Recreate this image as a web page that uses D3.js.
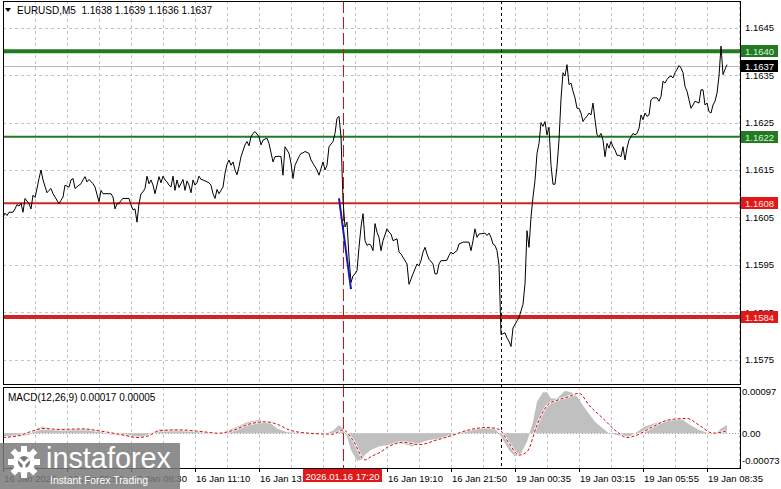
<!DOCTYPE html>
<html>
<head>
<meta charset="utf-8">
<script src="https://cdn.jsdelivr.net/npm/d3@7/dist/d3.min.js"></script>
<style>
  body { margin: 0; background: #fff; }
  svg text { font-family: "Liberation Sans", Arial, sans-serif; }
</style>
</head>
<body>
<svg id="chart" width="781" height="489"></svg>
<script>
// Chart values
const symbolTitle = "EURUSD,M5  1.1638 1.1639 1.1636 1.1637";
const macdTitle = "MACD(12,26,9) 0.00017 0.00005";

// [bar index, close]
const closes = [
  [0,1.16051],[1,1.16059],[2,1.16054],[3,1.16061],[5,1.16061],[6,1.16068],[7,1.16077],[8,1.16074],[9,1.16080],
  [10,1.16061],[11,1.16090],[13,1.16079],[14,1.16068],[15,1.16097],[16,1.16092],[17,1.16111],[18,1.16132],
  [19,1.16150],[20,1.16129],[22,1.16102],[23,1.16107],[24,1.16111],[25,1.16100],[26,1.16093],[28,1.16079],
  [29,1.16086],[30,1.16093],[31,1.16118],[33,1.16114],[34,1.16129],[35,1.16132],[36,1.16111],[38,1.16118],
  [39,1.16121],[40,1.16129],[41,1.16136],[42,1.16125],[43,1.16130],[45,1.16121],[46,1.16114],[48,1.16083],
  [49,1.16107],[50,1.16100],[54,1.16100],[55,1.16093],[56,1.16068],[57,1.16079],[58,1.16079],[59,1.16086],
  [60,1.16090],[63,1.16090],[64,1.16076],[65,1.16066],[66,1.16068],[67,1.16040],[68,1.16079],[69,1.16100],
  [70,1.16104],[71,1.16111],[72,1.16137],[73,1.16121],[74,1.16129],[75,1.16118],[76,1.16100],[77,1.16118],
  [78,1.16136],[79,1.16123],[80,1.16137],[81,1.16129],[82,1.16125],[83,1.16118],[84,1.16114],[85,1.16137],
  [86,1.16107],[87,1.16129],[88,1.16113],[90,1.16130],[91,1.16107],[92,1.16127],[93,1.16118],[94,1.16102],
  [95,1.16129],[96,1.16118],[97,1.16123],[98,1.16137],[99,1.16130],[100,1.16129],[102,1.16125],[103,1.16123],
  [104,1.16118],[105,1.16100],[106,1.16090],[107,1.16109],[108,1.16100],[109,1.16107],[110,1.16114],
  [111,1.16143],[112,1.16162],[113,1.16171],[114,1.16160],[115,1.16167],[116,1.16150],[117,1.16140],
  [118,1.16157],[119,1.16178],[121,1.16203],[122,1.16210],[123,1.16201],[124,1.16220],[125,1.16227],
  [126,1.16231],[128,1.16220],[129,1.16203],[130,1.16213],[131,1.16215],[132,1.16217],[133,1.16206],
  [135,1.16167],[136,1.16178],[138,1.16179],[139,1.16178],[140,1.16139],[141,1.16199],[143,1.16185],
  [144,1.16164],[145,1.16132],[146,1.16160],[148,1.16178],[149,1.16185],[150,1.16186],[151,1.16189],
  [153,1.16185],[154,1.16171],[155,1.16164],[156,1.16157],[157,1.16150],[158,1.16139],[160,1.16167],
  [161,1.16150],[162,1.16160],[163,1.16199],[165,1.16210],[166,1.16227],[167,1.16259],[168,1.16263],
  [169,1.16220],[170,1.16086],[171,1.16030],[172,1.16040],[173,1.15966],[174,1.15913],[175,1.15927],
  [176,1.15931],[177,1.15938],[178,1.15987],[179,1.16030],[180,1.16058],[181,1.16001],[182,1.15991],
  [183,1.15994],[184,1.15991],[185,1.15980],[186,1.16037],[187,1.16019],[188,1.16008],[189,1.15980],
  [190,1.16001],[192,1.16026],[193,1.16019],[194,1.16015],[195,1.16001],[197,1.16005],[198,1.15977],
  [199,1.15973],[200,1.15966],[202,1.15952],[203,1.15909],[204,1.15920],[205,1.15931],[207,1.15952],
  [208,1.15948],[209,1.15959],[210,1.15977],[211,1.15987],[212,1.15973],[213,1.15962],[215,1.15952],
  [216,1.15931],[217,1.15931],[218,1.15952],[219,1.15959],[221,1.15959],[222,1.15960],[223,1.15970],
  [224,1.15977],[225,1.15973],[226,1.15977],[227,1.15980],[228,1.15994],[230,1.15998],[233,1.15998],
  [234,1.15980],[235,1.16001],[236,1.16026],[237,1.16008],[238,1.16015],[241,1.16017],[242,1.16012],
  [243,1.16017],[244,1.16008],[245,1.15994],[246,1.15991],[247,1.15980],[248,1.15950],[249,1.15803],
  [251,1.15807],[252,1.15796],[253,1.15789],[254,1.15778],[255,1.15817],[257,1.15832],[258,1.15839],
  [259,1.15853],[260,1.15867],[261,1.15910],[262,1.16022],[263,1.15987],[264,1.16051],[265,1.16093],
  [266,1.16128],[267,1.16185],[268,1.16206],[269,1.16250],[270,1.16242],[271,1.16252],[272,1.16224],
  [273,1.16240],[274,1.16160],[275,1.16120],[276,1.16120],[277,1.16157],[278,1.16213],[279,1.16300],
  [280,1.16355],[281,1.16348],[282,1.16372],[283,1.16330],[284,1.16333],[285,1.16316],[286,1.16302],
  [287,1.16280],[288,1.16280],[289,1.16270],[290,1.16252],[291,1.16259],[292,1.16263],[293,1.16270],
  [294,1.16266],[295,1.16291],[296,1.16256],[297,1.16224],[298,1.16220],[299,1.16227],[300,1.16213],
  [301,1.16178],[302,1.16206],[303,1.16196],[304,1.16210],[305,1.16199],[306,1.16192],[307,1.16181],
  [308,1.16181],[309,1.16178],[310,1.16199],[311,1.16171],[312,1.16196],[313,1.16213],[314,1.16220],
  [315,1.16227],[316,1.16224],[317,1.16227],[318,1.16238],[319,1.16266],[320,1.16256],[321,1.16270],
  [322,1.16263],[323,1.16266],[324,1.16298],[325,1.16302],[327,1.16302],[328,1.16295],[329,1.16305],
  [330,1.16337],[331,1.16333],[332,1.16341],[333,1.16346],[334,1.16348],[335,1.16344],[336,1.16355],
  [337,1.16362],[338,1.16370],[339,1.16365],[340,1.16355],[341,1.16326],[342,1.16316],[343,1.16298],
  [344,1.16280],[345,1.16287],[346,1.16295],[348,1.16291],[349,1.16319],[350,1.16319],[351,1.16287],
  [352,1.16291],[353,1.16273],[354,1.16270],[355,1.16287],[356,1.16295],[357,1.16312],[358,1.16348],
  [359,1.16411],[360,1.16351],[361,1.16362],[362,1.16372]
];

// drawn trend line
const trendLine = [[168,1.16090],[174,1.15899]];

// horizontal levels
const greenLevels = [1.1640, 1.1622];
const redLevels = [1.1608, 1.1584];
const bidPrice = 1.1637;

const priceTicks = [1.1645, 1.1635, 1.1625, 1.1615, 1.1605, 1.1595, 1.1585, 1.1575];

// time axis
const timeTickBars = [0, 32, 64, 96, 128, 160, 192, 224, 256, 288, 320, 352];
const timeTickLabels = ["16 Jan 2026", "16 Jan 05:50", "16 Jan 08:30", "16 Jan 11:10", "16 Jan 13:50",
  "16 Jan 16:30", "16 Jan 19:10", "16 Jan 21:50", "19 Jan 00:35", "19 Jan 03:15", "19 Jan 05:55", "19 Jan 08:35"];
const crossBar = 170;
const crossLabel = "2026.01.16 17:20";
const daySeparatorBar = 249;

// MACD [bar, value]
const macdMain = [
  [0,-0.00007],[8,-0.00007],[13,-0.00004],[17,0.00010],[20,0.00014],[25,0.00008],[32,0.00009],[42,0.00010],
  [48,0.00005],[53,-0.00002],[62,-0.00007],[68,-0.00011],[73,-0.00002],[78,0.00009],[88,0.00008],[95,0.00005],
  [108,0.00000],[115,0.00010],[122,0.00023],[128,0.00028],[133,0.00023],[137,0.00010],[142,0.00002],
  [152,0.00001],[162,0.00000],[165,0.00005],[168,0.00017],[170,0.00010],[172,-0.00007],[174,-0.00035],
  [177,-0.00058],[179,-0.00056],[181,-0.00045],[184,-0.00035],[188,-0.00028],[193,-0.00024],[200,-0.00022],
  [205,-0.00028],[208,-0.00021],[213,-0.00014],[220,-0.00011],[225,-0.00004],[228,0.00001],[233,0.00007],
  [240,0.00012],[246,0.00010],[249,-0.00007],[253,-0.00035],[256,-0.00049],[259,-0.00042],[262,-0.00018],
  [265,0.00024],[267,0.00066],[270,0.00086],[272,0.00086],[274,0.00073],[277,0.00073],[281,0.00089],
  [284,0.00086],[287,0.00077],[291,0.00052],[296,0.00024],[300,0.00010],[303,0.00000],[308,-0.00005],
  [313,-0.00007],[316,0.00000],[321,0.00014],[326,0.00021],[333,0.00029],[339,0.00031],[343,0.00019],
  [348,0.00007],[353,0.00000],[356,-0.00002],[359,0.00010],[362,0.00017]
];
const macdSignal = [
  [0,-0.00009],[8,-0.00005],[15,0.00005],[20,0.00010],[28,0.00008],[40,0.00009],[48,0.00005],[58,-0.00002],
  [68,-0.00009],[73,-0.00005],[78,0.00005],[88,0.00007],[98,0.00004],[108,0.00000],[115,0.00006],
  [123,0.00019],[131,0.00024],[137,0.00019],[143,0.00007],[153,0.00000],[165,-0.00002],[170,0.00007],
  [175,-0.00015],[181,-0.00056],[184,-0.00049],[189,-0.00039],[192,-0.00030],[200,-0.00019],[208,-0.00024],
  [217,-0.00014],[225,-0.00004],[233,0.00007],[242,0.00012],[248,0.00008],[253,-0.00021],[258,-0.00046],
  [262,-0.00039],[267,0.00017],[270,0.00045],[273,0.00062],[277,0.00069],[283,0.00077],[288,0.00084],
  [293,0.00059],[300,0.00031],[307,0.00003],[312,-0.00009],[317,-0.00004],[325,0.00014],[333,0.00028],
  [342,0.00031],[348,0.00017],[355,0.00000],[360,0.00003],[362,0.00005]
];
const macdTicks = [0.00097, 0, -0.00073];
const macdTickLabels = ["0.00097", "0.00", "-0.00073"];

(function() {
  const svg = d3.select('#chart');
  const left = 3, right = 740, mainTop = 1, mainBottom = 384, subTop = 387, subBottom = 468;

  const x = d3.scaleLinear().domain([0, 368]).range([left, 739]);
  const y = d3.scaleLinear().domain([1.15699, 1.16504]).range([mainBottom, 2]);
  const ym = d3.scaleLinear().domain([-0.00073, 0.00097]).range([subBottom, subTop]);

  const gridBars = d3.range(0, 369, 16);
  const grid = svg.append('g').attr('stroke', '#c4c4c4').attr('stroke-dasharray', '3,3').attr('shape-rendering', 'crispEdges');

  // vertical grid in both panels
  grid.selectAll('.vg').data(gridBars).enter().append('line')
    .attr('x1', d => Math.round(x(d)) + 0.5).attr('x2', d => Math.round(x(d)) + 0.5)
    .attr('y1', mainTop).attr('y2', mainBottom);
  grid.selectAll('.vg2').data(gridBars).enter().append('line')
    .attr('x1', d => Math.round(x(d)) + 0.5).attr('x2', d => Math.round(x(d)) + 0.5)
    .attr('y1', subTop).attr('y2', subBottom);
  grid.selectAll('.hg').data(priceTicks).enter().append('line')
    .attr('x1', left).attr('x2', right)
    .attr('y1', d => Math.round(y(d)) + 0.5).attr('y2', d => Math.round(y(d)) + 0.5);

  // bid line
  svg.append('line').attr('x1', left).attr('x2', right)
    .attr('y1', Math.round(y(bidPrice)) + 0.5).attr('y2', Math.round(y(bidPrice)) + 0.5)
    .attr('stroke', '#b8b8b8').attr('shape-rendering', 'crispEdges');

  // levels
  svg.selectAll('.green-level').data(greenLevels).enter().append('line')
    .attr('x1', left).attr('x2', right).attr('y1', d => y(d)).attr('y2', d => y(d))
    .attr('stroke', '#237a23').attr('stroke-width', (d, i) => i === 0 ? 4 : 2);
  svg.selectAll('.red-level').data(redLevels).enter().append('line')
    .attr('x1', left).attr('x2', right).attr('y1', d => y(d)).attr('y2', d => y(d))
    .attr('stroke', '#d42323').attr('stroke-width', (d, i) => i === 0 ? 2 : 4);

  // vertical markers
  svg.append('line').attr('x1', Math.round(x(crossBar)) + 0.5).attr('x2', Math.round(x(crossBar)) + 0.5)
    .attr('y1', mainTop).attr('y2', subBottom)
    .attr('stroke', '#cc1111').attr('stroke-dasharray', '12,4');
  svg.append('line').attr('x1', Math.round(x(daySeparatorBar)) + 0.5).attr('x2', Math.round(x(daySeparatorBar)) + 0.5)
    .attr('y1', mainTop).attr('y2', subBottom)
    .attr('stroke', '#000').attr('stroke-dasharray', '3,3');

  // price line
  const line = d3.line().x(d => x(d[0])).y(d => y(d[1]));
  svg.append('path').datum(closes).attr('d', line)
    .attr('fill', 'none').attr('stroke', '#000').attr('stroke-width', 1);
  svg.append('path').datum(trendLine).attr('d', line)
    .attr('fill', 'none').attr('stroke', '#1a1aa8').attr('stroke-width', 2);

  // MACD panel
  svg.append('line').attr('x1', left).attr('x2', right)
    .attr('y1', Math.round(ym(0)) + 0.5).attr('y2', Math.round(ym(0)) + 0.5)
    .attr('stroke', '#9a9a9a').attr('stroke-dasharray', '1,2');
  const area = d3.area().x(d => x(d[0])).y0(ym(0)).y1(d => ym(d[1]));
  svg.append('path').datum(macdMain).attr('d', area).attr('fill', '#c0c0c0');
  const mline = d3.line().x(d => x(d[0])).y(d => ym(d[1])).curve(d3.curveMonotoneX);
  svg.append('path').datum(macdSignal).attr('d', mline)
    .attr('fill', 'none').attr('stroke', '#fff').attr('stroke-width', 2.5).attr('opacity', 0.7);
  svg.append('path').datum(macdSignal).attr('d', mline)
    .attr('fill', 'none').attr('stroke', '#d01010').attr('stroke-width', 1).attr('stroke-dasharray', '3,2');

  // frames
  const frames = svg.append('g').attr('fill', 'none').attr('stroke', '#000').attr('shape-rendering', 'crispEdges');
  frames.append('rect').attr('x', left + 0.5).attr('y', mainTop + 0.5).attr('width', right - left).attr('height', mainBottom - mainTop);
  frames.append('rect').attr('x', left + 0.5).attr('y', subTop + 0.5).attr('width', right - left).attr('height', subBottom - subTop);

  // right price axis
  svg.selectAll('.ptick').data(priceTicks).enter().append('text')
    .attr('x', 745).attr('y', d => y(d) + 3.5).attr('font-size', 9.5).attr('fill', '#000')
    .text(d => d.toFixed(4));

  function priceBox(value, bg, fg) {
    svg.append('rect').attr('x', 741).attr('y', Math.round(y(value)) - 6).attr('width', 37).attr('height', 12).attr('fill', bg);
    svg.append('text').attr('x', 745).attr('y', Math.round(y(value)) + 4).attr('font-size', 9.5).attr('fill', fg).text(value.toFixed(4));
  }
  priceBox(greenLevels[0], '#237a23', '#d8f5d8');
  priceBox(greenLevels[1], '#237a23', '#d8f5d8');
  priceBox(redLevels[0], '#e01818', '#ffe8e8');
  priceBox(redLevels[1], '#e01818', '#ffe8e8');
  priceBox(bidPrice, '#000', '#fff');

  // MACD axis
  svg.selectAll('.mtick').data(macdTicks).enter().append('text')
    .attr('x', 742).attr('y', (d, i) => i === 0 ? 395 : i === 2 ? 464 : ym(d) + 3.5)
    .attr('font-size', 9.5).attr('fill', '#000')
    .text((d, i) => macdTickLabels[i]);

  // time axis (labels under the crosshair box are hidden, as in the terminal)
  const shownTicks = timeTickBars.filter(d => Math.abs(x(d) - x(crossBar)) > 40);
  svg.selectAll('.tlabel').data(shownTicks).enter().append('text')
    .attr('x', d => x(d) + 1).attr('y', 482).attr('font-size', 9.5).attr('fill', '#000')
    .text(d => timeTickLabels[timeTickBars.indexOf(d)]);
  svg.selectAll('.ttick').data(timeTickBars).enter().append('line')
    .attr('x1', d => Math.round(x(d)) + 0.5).attr('x2', d => Math.round(x(d)) + 0.5)
    .attr('y1', subBottom).attr('y2', subBottom + 4).attr('stroke', '#000');

  // crosshair time box
  svg.append('rect').attr('x', x(crossBar) - 40).attr('y', 469).attr('width', 79).attr('height', 13).attr('fill', '#e01818');
  svg.append('text').attr('x', x(crossBar) - 0.5).attr('y', 479.5).attr('text-anchor', 'middle')
    .attr('font-size', 9.5).attr('fill', '#fff').text(crossLabel);

  // titles
  svg.append('path').attr('d', 'M5,8 L11,8 L8,12 Z').attr('fill', '#000');
  svg.append('text').attr('x', 17).attr('y', 14).attr('font-size', 10).attr('fill', '#000')
    .attr('xml:space', 'preserve').style('white-space', 'pre').text(symbolTitle);
  svg.append('text').attr('x', 8).attr('y', 401).attr('font-size', 10).attr('fill', '#000').text(macdTitle);

  // watermark
  const logo = svg.append('g').attr('transform', 'translate(0,443)');
  logo.append('rect').attr('width', 180).attr('height', 46).attr('fill', '#7a7a7a').attr('opacity', 0.85);
  const gear = logo.append('g').attr('transform', 'translate(24,19)').attr('fill', '#fff');
  gear.selectAll('rect').data(d3.range(8)).enter().append('rect')
    .attr('x', -3).attr('y', -16).attr('width', 6).attr('height', 7)
    .attr('transform', d => `rotate(${d * 45})`);
  gear.append('circle').attr('r', 11);
  gear.append('circle').attr('r', 6).attr('fill', '#7a7a7a');
  gear.append('path').attr('d', 'M-5,-3 L0,2 L5,-3 M0,2 L0,11').attr('stroke', '#fff').attr('stroke-width', 3).attr('fill', 'none');
  logo.append('text').attr('x', 46).attr('y', 25).attr('font-size', 30)
    .attr('font-family', 'Lato, "Open Sans", sans-serif').attr('fill', '#fff')
    .attr('textLength', 125).attr('lengthAdjust', 'spacingAndGlyphs').text('instaforex');
  logo.append('text').attr('x', 50).attr('y', 41).attr('font-size', 11.5).attr('fill', '#fff')
    .attr('textLength', 98).attr('lengthAdjust', 'spacingAndGlyphs').text('Instant Forex Trading');
})();
</script>
</body>
</html>
